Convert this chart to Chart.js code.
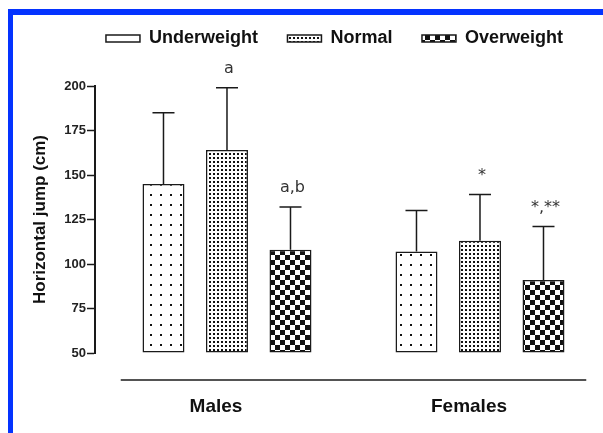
<!DOCTYPE html>
<html><head><meta charset="utf-8">
<script src="https://cdn.jsdelivr.net/npm/chart.js@4"></script>
<style>
html,body{margin:0;padding:0;background:#fff;}
#wrap{position:relative;width:603px;height:433px;overflow:hidden;background:#fff;}
#frame{position:absolute;left:8px;top:9px;right:0;bottom:0;border-top:6px solid #0433ff;border-left:5px solid #0433ff;pointer-events:none;}
canvas{position:absolute;left:0;top:0;}
</style></head><body>
<div id="wrap"><canvas id="c" width="603" height="433"></canvas><div id="frame"></div></div>
<script>
// ---- data ----
const categories = ['Males', 'Females'];
const seriesNames = ['Underweight', 'Normal', 'Overweight'];
const underweight = [145, 107];
const normal = [164, 113];
const overweight = [108, 91];
const underweightSD = [40, 23];
const normalSD = [35, 26];
const overweightSD = [24, 30];
const underweightMarks = ['', ''];
const normalMarks = ['a', '*'];
const overweightMarks = ['a,b', '*,**'];
const yMin = 50, yMax = 200, yStep = 25;
const yTitle = 'Horizontal jump (cm)';

// ---- style ----
const FONT = "'Liberation Sans', Arial, sans-serif";
const MARK_FONT = "'DejaVu Sans', Verdana, sans-serif";
const INK = '#1a1a1a';
Chart.defaults.font.family = FONT;
Chart.defaults.color = '#111';

const canvas = document.getElementById('c');
const ctx = canvas.getContext('2d');
function makePattern(size, draw) {
  const c = document.createElement('canvas');
  c.width = c.height = size;
  const g = c.getContext('2d');
  g.fillStyle = '#fff'; g.fillRect(0, 0, size, size);
  g.fillStyle = '#111'; draw(g);
  return ctx.createPattern(c, 'repeat');
}
const sparseDots = makePattern(10, g => g.fillRect(0, 4, 2, 2));
const fineDots = makePattern(4, g => g.fillRect(1, 1, 2, 2));
const checker = makePattern(10, g => { g.fillRect(0, 0, 5, 5); g.fillRect(5, 5, 5, 5); });

// spacer between legend and plot area
const legendGap = {
  id: 'legendGap',
  beforeInit(chart) {
    Chart.layouts.addBox(chart, {
      position: 'top', weight: 1, fullSize: true, options: {},
      left: 0, top: 0, right: 0, bottom: 0, width: 0, height: 0,
      isHorizontal() { return true; },
      update(maxWidth) { this.width = maxWidth; this.height = 28.5; },
      draw() {}
    });
  }
};
const errorBars = {
  id: 'errorBars',
  afterDatasetsDraw(chart) {
    const c = chart.ctx, y = chart.scales.y;
    c.save();
    c.strokeStyle = INK; c.lineWidth = 1.5;
    c.fillStyle = '#333';
    c.font = '16px ' + MARK_FONT;
    c.textAlign = 'center'; c.textBaseline = 'alphabetic';
    chart.data.datasets.forEach((ds, i) => {
      const meta = chart.getDatasetMeta(i);
      meta.data.forEach((bar, j) => {
        const top = y.getPixelForValue(ds.data[j] + ds.errors[j]);
        c.beginPath();
        c.moveTo(bar.x, bar.y); c.lineTo(bar.x, top);
        c.moveTo(bar.x - 11, top); c.lineTo(bar.x + 11, top);
        c.stroke();
        if (ds.marks[j]) c.fillText(ds.marks[j], bar.x + 2, top - 15);
      });
    });
    c.restore();
  }
};
const groupLine = {
  id: 'groupLine',
  afterDraw(chart) {
    const x = chart.scales.x, c = chart.ctx;
    c.save();
    c.strokeStyle = INK; c.lineWidth = 1.5;
    c.beginPath();
    c.moveTo(x.getPixelForValue(-0.42), x.top + 27);
    c.lineTo(x.getPixelForValue(1.42), x.top + 27);
    c.stroke();
    c.restore();
  }
};

const common = { borderColor: INK, borderWidth: 1.5, borderSkipped: false, clip: 3, base: yMin };
new Chart(ctx, {
  type: 'bar',
  data: {
    labels: categories,
    datasets: [
      Object.assign({ label: seriesNames[0], data: underweight, errors: underweightSD, marks: underweightMarks, backgroundColor: sparseDots }, common),
      Object.assign({ label: seriesNames[1], data: normal, errors: normalSD, marks: normalMarks, backgroundColor: fineDots }, common),
      Object.assign({ label: seriesNames[2], data: overweight, errors: overweightSD, marks: overweightMarks, backgroundColor: checker }, common)
    ]
  },
  options: {
    responsive: false,
    animation: false,
    devicePixelRatio: 1,
    events: [],
    categoryPercentage: 0.753,
    barPercentage: 0.661,
    layout: { padding: { left: 26, right: 10.5, top: 0, bottom: 0 } },
    plugins: {
      tooltip: { enabled: false },
      legend: {
        position: 'top',
        align: 'end',
        labels: {
          boxWidth: 34, boxHeight: 7, padding: 29.5,
          font: { size: 18, weight: 'bold' }, color: '#111',
          generateLabels: (chart) => Chart.defaults.plugins.legend.labels.generateLabels(chart)
            .map((l, i) => i === 0 ? Object.assign(l, { fillStyle: '#fff' }) : l)
        }
      }
    },
    scales: {
      x: {
        type: 'category',
        offset: true,
        grid: { display: false, drawTicks: false },
        border: { display: false },
        ticks: { font: { size: 19, weight: 'bold' }, color: '#111', padding: 42, labelOffset: -11, maxRotation: 0 },
        afterBuildTicks: (s) => { s._startValue = -0.5217; s._valueRange = 1.9664; },
        afterFit: (s) => { s.height = 80; }
      },
      y: {
        min: yMin, max: yMax,
        ticks: { stepSize: yStep, font: { size: 13, weight: 'bold' }, color: '#222', padding: 1 },
        grid: { drawOnChartArea: false, drawTicks: true, tickLength: 8, tickColor: INK, tickWidth: 1.5 },
        border: { display: true, color: INK, width: 2 },
        title: { display: true, text: yTitle, font: { size: 17, weight: 'bold' }, color: '#111', padding: { top: 4, bottom: 4 } },
        afterFit: (s) => { s.width = 69; }
      }
    }
  },
  plugins: [legendGap, errorBars, groupLine]
});
</script>
</body></html>
